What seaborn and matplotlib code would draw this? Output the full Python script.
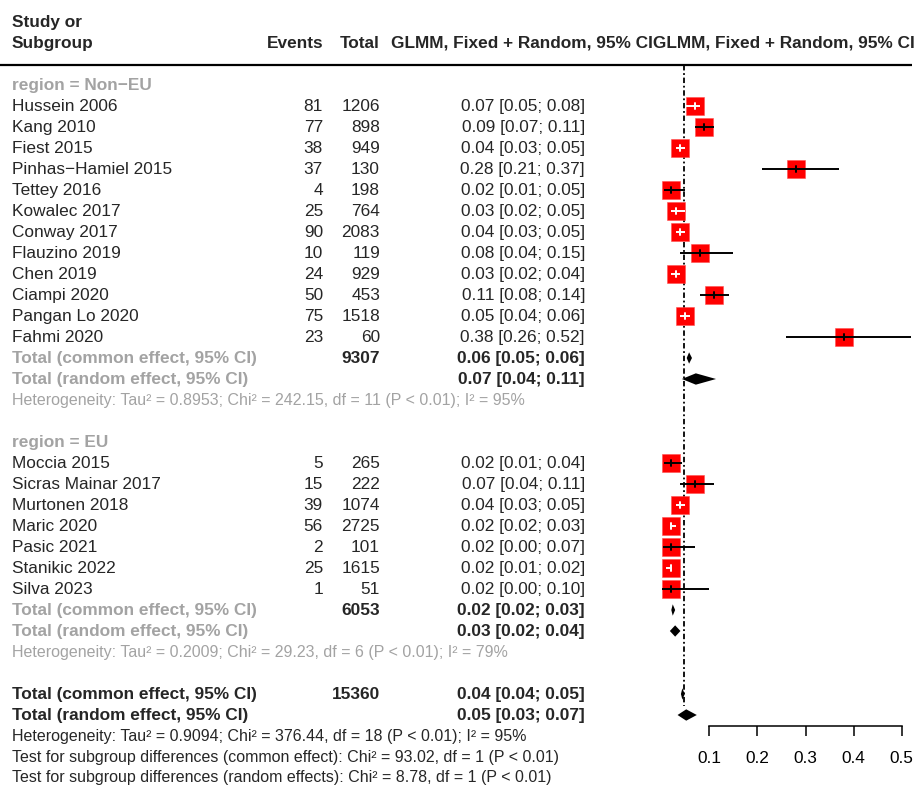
import numpy as np
import pandas as pd
import matplotlib
matplotlib.use("Agg")
import matplotlib.pyplot as plt
import seaborn as sns

sns.set_theme(style="white")
plt.rcParams['font.family'] = ['Liberation Sans', 'DejaVu Sans']

# ---------------- data ----------------
noneu_study = ["Hussein 2006", "Kang 2010", "Fiest 2015", "Pinhas\u2212Hamiel 2015", "Tettey 2016",
               "Kowalec 2017", "Conway 2017", "Flauzino 2019", "Chen 2019", "Ciampi 2020",
               "Pangan Lo 2020", "Fahmi 2020"]
noneu_events = [81, 77, 38, 37, 4, 25, 90, 10, 24, 50, 75, 23]
noneu_total = [1206, 898, 949, 130, 198, 764, 2083, 119, 929, 453, 1518, 60]
noneu_est = [0.07, 0.088, 0.04, 0.28, 0.02, 0.03, 0.04, 0.08, 0.03, 0.11, 0.05, 0.38]
noneu_lo = [0.05, 0.07, 0.03, 0.21, 0.006, 0.02, 0.03, 0.04, 0.02, 0.08, 0.04, 0.26]
noneu_hi = [0.08, 0.11, 0.05, 0.37, 0.05, 0.05, 0.05, 0.15, 0.04, 0.14, 0.06, 0.52]

eu_study = ["Moccia 2015", "Sicras Mainar 2017", "Murtonen 2018", "Maric 2020", "Pasic 2021",
            "Stanikic 2022", "Silva 2023"]
eu_events = [5, 15, 39, 56, 2, 25, 1]
eu_total = [265, 222, 1074, 2725, 101, 1615, 51]
eu_est = [0.02, 0.07, 0.04, 0.02, 0.02, 0.02, 0.02]
eu_lo = [0.006, 0.04, 0.03, 0.02, 0.004, 0.01, 0.002]
eu_hi = [0.044, 0.11, 0.05, 0.03, 0.07, 0.02, 0.10]

# pooled estimates: (est, lo, hi)
noneu_common = (0.058, 0.053, 0.064)
noneu_random = (0.072, 0.043, 0.114)
eu_common = (0.024, 0.021, 0.029)
eu_random = (0.029, 0.018, 0.040)
all_common = (0.044, 0.041, 0.049)
all_random = (0.052, 0.034, 0.074)
noneu_n = 9307
eu_n = 6053
all_n = 15360
ref_line = 0.047

noneu_het = "Heterogeneity: Tau\u00b2 = 0.8953; Chi\u00b2 = 242.15, df = 11 (P < 0.01); I\u00b2 = 95%"
eu_het = "Heterogeneity: Tau\u00b2 = 0.2009; Chi\u00b2 = 29.23, df = 6 (P < 0.01); I\u00b2 = 79%"
all_het = "Heterogeneity: Tau\u00b2 = 0.9094; Chi\u00b2 = 376.44, df = 18 (P < 0.01); I\u00b2 = 95%"
test_common = "Test for subgroup differences (common effect): Chi\u00b2 = 93.02, df = 1 (P < 0.01)"
test_random = "Test for subgroup differences (random effects): Chi\u00b2 = 8.78, df = 1 (P < 0.01)"
xticks = [0.1, 0.2, 0.3, 0.4, 0.5]

# ---------------- layout ----------------
W, H = 919, 785
ROW0_PX, ROW_PX = 22.0, 21.0
def px2row(p):
    return (p - ROW0_PX) / ROW_PX

X0_PX, X_SCALE = 661.2, 481.0   # pixel of value 0, pixels per unit
FOREST_LEFT, AXIS_PX = 600, 726

GREY = '#a3a3a3'
FS = 12.4
FS_SMALL = 11.55
SQ_PX = 17.5

fig = plt.figure(figsize=(W / 100, H / 100), dpi=100)
fig.patch.set_facecolor('white')

# text axes in pixel-x and row-y
TSHIFT = 0.5 / ROW_PX
tax = fig.add_axes([0, 0, 1, 1])
tax.set_xlim(0, W)
tax.set_ylim(px2row(H) - TSHIFT, px2row(0) - TSHIFT)
tax.axis('off')

# forest axes
fax = fig.add_axes([FOREST_LEFT / W, (H - AXIS_PX) / H, (W - FOREST_LEFT) / W, AXIS_PX / H])
fax.set_xlim((FOREST_LEFT - X0_PX) / X_SCALE, (W - X0_PX) / X_SCALE)
fax.set_ylim(px2row(AXIS_PX), px2row(0))
fax.patch.set_alpha(0)

X_NAME, X_EV, X_TOT, X_EST = 12, 323, 380, 585

def fmt(e, l, h):
    return f"{e:.2f} [{l:.2f}; {h:.2f}]"

# header
tax.text(X_NAME, 0, "Study or", fontsize=FS, fontweight='bold', va='center', ha='left')
tax.text(X_NAME, 1, "Subgroup", fontsize=FS, fontweight='bold', va='center', ha='left')
tax.text(X_EV, 1, "Events", fontsize=FS, fontweight='bold', va='center', ha='right')
tax.text(X_TOT, 1, "Total", fontsize=FS, fontweight='bold', va='center', ha='right')
tax.text(391, 1, "GLMM, Fixed + Random, 95% CIGLMM, Fixed + Random, 95% CI", fontsize=FS,
         fontweight='bold', va='center', ha='left')
tax.plot([0, 912], [px2row(63.5) + TSHIFT] * 2, color='black', lw=1.6, solid_capstyle='butt')

rows_all, est_all, lo_all, hi_all = [], [], [], []
diamonds = []

def block(start, label, names, ev, tot, est, lo, hi, common, random, n, het):
    tax.text(X_NAME, start, label, fontsize=FS, fontweight='bold', color=GREY, va='center')
    r = start + 1
    for i in range(len(names)):
        tax.text(X_NAME, r, names[i], fontsize=FS, va='center')
        tax.text(X_EV, r, str(ev[i]), fontsize=FS, va='center', ha='right')
        tax.text(X_TOT, r, str(tot[i]), fontsize=FS, va='center', ha='right')
        tax.text(X_EST, r, fmt(est[i], lo[i], hi[i]), fontsize=FS, va='center', ha='right')
        rows_all.append(r); est_all.append(est[i]); lo_all.append(lo[i]); hi_all.append(hi[i])
        r += 1
    tax.text(X_NAME, r, "Total (common effect, 95% CI)", fontsize=FS, fontweight='bold', color=GREY, va='center')
    tax.text(X_TOT, r, str(n), fontsize=FS, fontweight='bold', va='center', ha='right')
    tax.text(X_EST, r, fmt(*common), fontsize=FS, fontweight='bold', va='center', ha='right')
    diamonds.append((r, common))
    r += 1
    tax.text(X_NAME, r, "Total (random effect, 95% CI)", fontsize=FS, fontweight='bold', color=GREY, va='center')
    tax.text(X_EST, r, fmt(*random), fontsize=FS, fontweight='bold', va='center', ha='right')
    diamonds.append((r, random))
    r += 1
    tax.text(X_NAME, r, het, fontsize=FS_SMALL, color=GREY, va='center')
    return r + 2

r = block(3, "region = Non\u2212EU", noneu_study, noneu_events, noneu_total, noneu_est, noneu_lo, noneu_hi,
          noneu_common, noneu_random, noneu_n, noneu_het)
r = block(r, "region = EU", eu_study, eu_events, eu_total, eu_est, eu_lo, eu_hi,
          eu_common, eu_random, eu_n, eu_het)
tax.text(X_NAME, r, "Total (common effect, 95% CI)", fontsize=FS, fontweight='bold', va='center')
tax.text(X_TOT, r, str(all_n), fontsize=FS, fontweight='bold', va='center', ha='right')
tax.text(X_EST, r, fmt(*all_common), fontsize=FS, fontweight='bold', va='center', ha='right')
diamonds.append((r, all_common))
tax.text(X_NAME, r + 1, "Total (random effect, 95% CI)", fontsize=FS, fontweight='bold', va='center')
tax.text(X_EST, r + 1, fmt(*all_random), fontsize=FS, fontweight='bold', va='center', ha='right')
diamonds.append((r + 1, all_random))
tax.text(X_NAME, r + 2, all_het, fontsize=FS_SMALL, va='center')
tax.text(X_NAME, r + 3, test_common, fontsize=FS_SMALL, va='center')
tax.text(X_NAME, r + 3.93, test_random, fontsize=FS_SMALL, va='center')

# ---------------- forest ----------------
df = pd.DataFrame({"row": rows_all, "est": est_all, "lo": lo_all, "hi": hi_all})
side_pt = SQ_PX * 72 / 100
fax.plot([ref_line, ref_line], [px2row(65), px2row(706)], color='black', lw=1.3,
         linestyle=(0, (3, 1.5, 1, 1.5)), zorder=1)

sns.scatterplot(data=df, x="est", y="row", marker='s', s=side_pt ** 2, color='#ff0000',
                edgecolor='#ff5050', linewidth=0.4, ax=fax, legend=False, zorder=2)
for _, rw in df.iterrows():
    ins = (rw["hi"] - rw["lo"]) * X_SCALE < SQ_PX
    c = 'white' if ins else 'black'
    fax.plot([rw["lo"], rw["hi"]], [rw["row"], rw["row"]], color=c, lw=1.4, zorder=3, solid_capstyle='butt')
    fax.plot([rw["est"], rw["est"]], [rw["row"] - 0.15, rw["row"] + 0.15], color=c, lw=1.4, zorder=3)

for rr, (e, l, h) in diamonds:
    fax.fill([l, e, h, e], [rr, rr - 0.27, rr, rr + 0.27], color='black', lw=0, zorder=3)

fax.set_xticks(xticks)
fax.set_xticklabels([f"{t:.1f}" for t in xticks], fontsize=FS)
fax.set_yticks([])
for s in ['left', 'right', 'top']:
    fax.spines[s].set_visible(False)
fax.spines['bottom'].set_bounds(xticks[0], xticks[-1])
fax.spines['bottom'].set_color('black')
fax.spines['bottom'].set_linewidth(1.1)
fax.tick_params(axis='x', direction='out', length=7.2, width=1.1, pad=11, colors='black', bottom=True)
fax.set_xlabel("")
fax.set_ylabel("")
fax.grid(False)

fig.savefig("out.png", dpi=100, facecolor='white')
